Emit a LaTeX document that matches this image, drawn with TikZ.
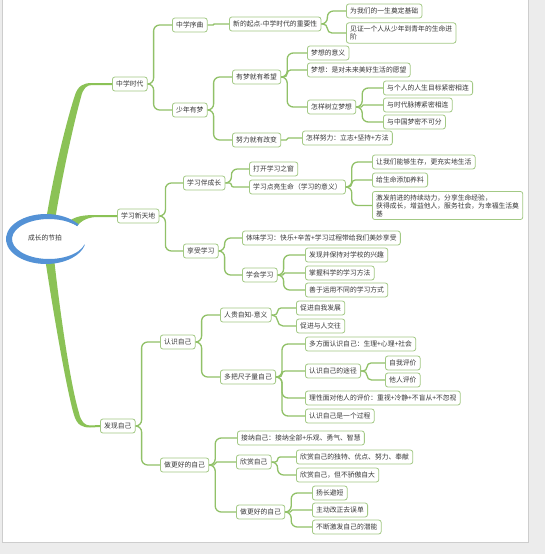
\documentclass[tikz,border=0pt]{standalone}
\usepackage{fontspec}
\newfontfamily\cjk{Noto Sans CJK SC}
\usetikzlibrary{calc}
\definecolor{pagegrey}{RGB}{236,236,236}
\definecolor{edgegrey}{RGB}{205,205,205}
\definecolor{boxgreen}{RGB}{163,201,133}
\definecolor{linkgreen}{RGB}{145,193,104}
\definecolor{trunkgreen}{RGB}{139,194,86}
\definecolor{rootblue}{RGB}{84,146,214}
\definecolor{txtgrey}{RGB}{55,55,55}
\tikzset{
  mapbox/.style={draw=boxgreen, line width=0.8pt, rounded corners=2.5pt, fill=white,
    anchor=west, inner xsep=3.8pt, inner ysep=3pt, minimum height=14pt,
    text=txtgrey, align=left, font=\cjk\fontsize{6.8}{8}\selectfont},
  link/.style={draw=linkgreen, line width=1.3pt},
}
\begin{document}
\begin{tikzpicture}[x=1pt,y=-1pt]
  \useasboundingbox (0,0) rectangle (545,554);
  \fill[pagegrey] (0,0) rectangle (545,554);
  \filldraw[fill=white,draw=edgegrey,line width=0.6pt] (2.5,-1) rectangle (528,542.5);

  % first level
  \node[mapbox] (zxsd)  at (112,84)  {中学时代};
  \node[mapbox] (xxxtd) at (117,216) {学习新天地};
  \node[mapbox] (fxzj)  at (100,426) {发现自己};

  % 中学时代
  \node[mapbox] (xq)    at (172,25)  {中学序曲};
  \node[mapbox] (xdqd)  at (229,24)  {新的起点-中学时代的重要性};
  \node[mapbox] (djjc)  at (346,11)  {为我们的一生奠定基础};
  \node[mapbox] (jzjj)  at (346,33)  {见证一个人从少年到青年的生命进\\阶};
  \node[mapbox] (snym)  at (172,110) {少年有梦};
  \node[mapbox] (ymyxw) at (232,77)  {有梦就有希望};
  \node[mapbox] (mxyy)  at (307,53)  {梦想的意义};
  \node[mapbox] (mxyw)  at (307,70)  {梦想：是对未来美好生活的愿望};
  \node[mapbox] (zsmx)  at (307,107) {怎样树立梦想};
  \node[mapbox] (grmb)  at (383,88)  {与个人的人生目标紧密相连};
  \node[mapbox] (sdmb)  at (383,105) {与时代脉搏紧密相连};
  \node[mapbox] (zgm)   at (383,122) {与中国梦密不可分};
  \node[mapbox] (nlgb)  at (232,140) {努力就有改变};
  \node[mapbox] (zynl)  at (302,138) {怎样努力：立志+坚持+方法};

  % 学习新天地
  \node[mapbox] (xxbcz) at (183,183) {学习伴成长};
  \node[mapbox] (dkxx)  at (249,169) {打开学习之窗};
  \node[mapbox] (xxdl)  at (249,187) {学习点亮生命（学习的意义）};
  \node[mapbox] (ssch)  at (372,162) {让我们能够生存，更充实地生活};
  \node[mapbox] (yl)    at (372,180) {给生命添加养料};
  \node[mapbox] (jfql)  at (372,205.5) {激发前进的持续动力，分享生命经验，\\获得成长，增益他人，服务社会，为幸福生活奠\\基};
  \node[mapbox] (xsxx)  at (183,251) {享受学习};
  \node[mapbox] (twxx)  at (242,238) {体味学习：快乐+辛苦+学习过程带给我们美妙享受};
  \node[mapbox] (xhxx)  at (242,275) {学会学习};
  \node[mapbox] (xqqu)  at (305,255) {发现并保持对学校的兴趣};
  \node[mapbox] (kxff)  at (305,273) {掌握科学的学习方法};
  \node[mapbox] (fsfs)  at (305,290) {善于运用不同的学习方式};

  % 发现自己
  \node[mapbox] (rszj)  at (160,342) {认识自己};
  \node[mapbox] (gzzz)  at (220,315) {人贵自知-意义};
  \node[mapbox] (zwfz)  at (296,308) {促进自我发展};
  \node[mapbox] (yrjw)  at (296,326) {促进与人交往};
  \node[mapbox] (dbcz)  at (220,377) {多把尺子量自己};
  \node[mapbox] (dfm)   at (305,344) {多方面认识自己：生理+心理+社会};
  \node[mapbox] (tj)    at (305,371) {认识自己的途径};
  \node[mapbox] (zwpj)  at (385,363) {自我评价};
  \node[mapbox] (trpj)  at (385,380) {他人评价};
  \node[mapbox] (lxmd)  at (305,398) {理性面对他人的评价：重视+冷静+不盲从+不忽视};
  \node[mapbox] (gcheng) at (305,416) {认识自己是一个过程};
  \node[mapbox] (zghd)  at (160,465) {做更好的自己};
  \node[mapbox] (jnzj)  at (237,438) {接纳自己：接纳全部+乐观、勇气、智慧};
  \node[mapbox] (xszj)  at (236,462) {欣赏自己};
  \node[mapbox] (dtyd)  at (296,457) {欣赏自己的独特、优点、努力、奉献};
  \node[mapbox] (bjaz)  at (296,475) {欣赏自己，但不骄傲自大};
  \node[mapbox] (zghdb) at (236,512) {做更好的自己};
  \node[mapbox] (ycbd)  at (312,493) {扬长避短};
  \node[mapbox] (zdgz)  at (312,510) {主动改正去误单};
  \node[mapbox] (bdjf)  at (312,527) {不断激发自己的潜能};

  % connectors
  \foreach \a/\b in {zxsd/xq, zxsd/snym, xq/xdqd, xdqd/djjc, xdqd/jzjj,
      snym/ymyxw, snym/nlgb, ymyxw/mxyy, ymyxw/mxyw, ymyxw/zsmx,
      zsmx/grmb, zsmx/sdmb, zsmx/zgm, nlgb/zynl,
      xxxtd/xxbcz, xxxtd/xsxx, xxbcz/dkxx, xxbcz/xxdl,
      xxdl/ssch, xxdl/yl, xxdl/jfql, xsxx/twxx, xsxx/xhxx,
      xhxx/xqqu, xhxx/kxff, xhxx/fsfs,
      fxzj/rszj, fxzj/zghd, rszj/gzzz, rszj/dbcz, gzzz/zwfz, gzzz/yrjw,
      dbcz/dfm, dbcz/tj, dbcz/lxmd, dbcz/gcheng, tj/zwpj, tj/trpj,
      zghd/jnzj, zghd/xszj, zghd/zghdb, xszj/dtyd, xszj/bjaz,
      zghdb/ycbd, zghdb/zdgz, zghdb/bdjf}{
    \draw[link] let \p1=(\a.east), \p2=(\b.west), \n1={min(6pt,abs(\y2-\y1)/2)} in
      [rounded corners=\n1] (\p1) -- ++(6,0) |- (\p2);
  }

  % thick main branches
  \fill[trunkgreen] (46,220) .. controls (56,160) and (70,110) .. (75,95)
    .. controls (78,86) and (83,83) .. (92,83) -- ([yshift=1pt]zxsd.west)
    -- ([yshift=-1pt]zxsd.west) -- (92,85) .. controls (87,85) and (83,88) .. (81,97)
    .. controls (76,115) and (64,165) .. (55,220) -- cycle;
  \fill[trunkgreen] (67,223) .. controls (74,216) and (84,215) .. (96,215)
    -- ([yshift=1pt]xxxtd.west) -- ([yshift=-1pt]xxxtd.west) -- (96,217)
    .. controls (86,217.5) and (79,222) .. (75,229) -- cycle;
  \fill[trunkgreen] (45,258) .. controls (56,330) and (68,395) .. (74,415)
    .. controls (77,425) and (82,427.5) .. (90,427.5) -- ([yshift=-1pt]fxzj.west)
    -- ([yshift=1pt]fxzj.west) -- (90,425.5) .. controls (85,425.5) and (81,422) .. (79,413)
    .. controls (72,390) and (62,330) .. (54,258) -- cycle;

  % root
  \begin{scope}[shift={(46,239)}]
    \fill[white] (3,0) ellipse [x radius=37, y radius=20];
    \fill[rootblue] (30.64,-16.07) arc[start angle=-40, end angle=-345, x radius=40, y radius=25]
      -- (38.74,5.18) arc[start angle=-345, end angle=-40, x radius=37, y radius=20] -- cycle;
    \fill[rootblue] (31,-14.5) circle (1.7);
  \end{scope}
  \node[text=txtgrey, font=\cjk\fontsize{6.8}{8}\selectfont] (root) at (45,238) {成长的节拍};
\end{tikzpicture}
\end{document}
